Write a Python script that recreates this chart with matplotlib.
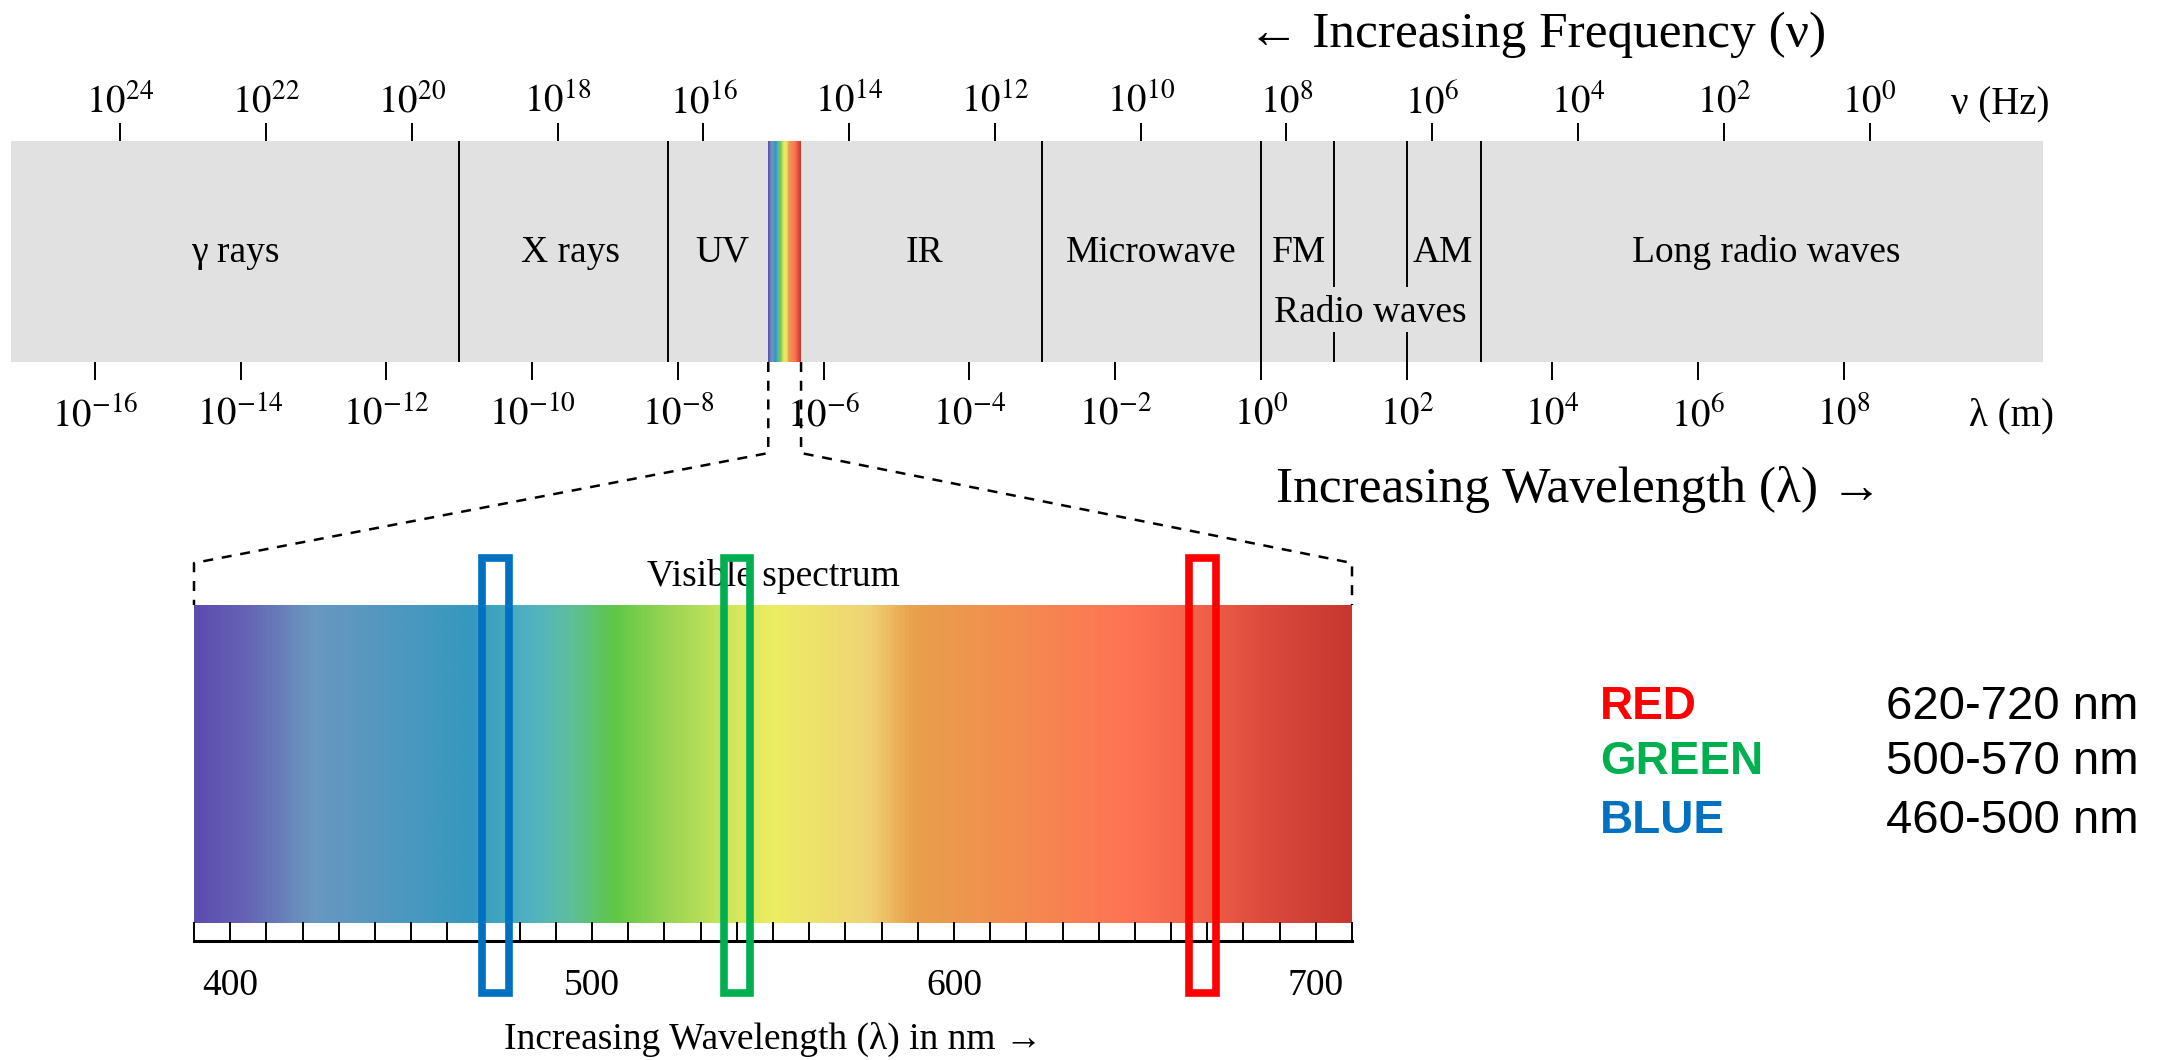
import matplotlib.pyplot as plt
import numpy as np
from matplotlib.colors import LinearSegmentedColormap
from matplotlib.patches import Rectangle
from matplotlib.lines import Line2D
from matplotlib.ticker import MultipleLocator

plt.rcParams['font.family'] = ['Liberation Serif', 'DejaVu Serif']
plt.rcParams['mathtext.fontset'] = 'stix'

W, H = 2164, 1060

# --- top bar, x in log10(wavelength / m) ---
bar_xlim = (-17.15, 10.73)
freq_offset = 8.35          # log10(nu * lambda) as drawn in the picture
wave_exps = list(range(-16, 9, 2))
freq_exps = list(range(24, -1, -2))
full_bounds = [-11, -8.13, -3, 0, 3.02]
split_bounds = [1, 2]        # FM / AM inner lines, broken by "Radio waves"
visible_band = (-6.76, -6.31)
region_names = ['γ rays', 'X rays', 'UV', 'IR', 'Microwave', 'FM', 'AM', 'Long radio waves']
region_x = [-14.07, -9.48, -7.39, -4.61, -1.51, 0.52, 2.50, 6.93]

# --- visible spectrum (nm) ---
vis_range = (390, 710)
vis_labels = [400, 500, 600, 700]
spec_nm = [390, 405, 422, 445, 466, 484, 494, 506, 521, 540, 550, 576, 589, 620, 649, 668, 686, 710]
spec_colors = ['#5d4cae', '#6666b6', '#6a97bf', '#4f98c0', '#3598be', '#52b4c0', '#5dbf9a',
               '#5fc745', '#9ad553', '#d5e75e', '#ecee62', '#f0d476', '#e9a04c', '#f48a50',
               '#ff7354', '#f26249', '#dc4b3d', '#c8372f']

# highlighted boxes on the spectrum (nm)
box_lo = [469.5, 536.4, 665.0]
box_hi = [477.0, 543.6, 672.5]
box_colors = ['#0070C0', '#00B050', '#FF0000']

legend_names = ['RED', 'GREEN', 'BLUE']
legend_ranges = ['620-720 nm', '500-570 nm', '460-500 nm']
legend_colors = ['#FF0000', '#00B050', '#0070C0']
legend_base_px = [719, 774, 833]

cmap = LinearSegmentedColormap.from_list(
    'visible', [((n - vis_range[0]) / (vis_range[1] - vis_range[0]), c)
                for n, c in zip(spec_nm, spec_colors)])
grad = np.linspace(vis_range[0], vis_range[1], 800)[None, :]

fig = plt.figure(figsize=(W / 100, H / 100), dpi=100)

# ---------------- top bar ----------------
ax = fig.add_axes([11 / W, 1 - 362 / H, 2032 / W, 221 / H])
ax.set_facecolor('#e1e1e1')
ax.imshow(grad, extent=(visible_band[0], visible_band[1], 0, 1), aspect='auto',
          cmap=cmap, vmin=vis_range[0], vmax=vis_range[1], interpolation='bilinear')
ax.vlines(full_bounds, 0, 1, color='k', lw=1.4)
ax.vlines(split_bounds, 0.339, 1, color='k', lw=1.4)
ax.vlines(split_bounds, 0, 0.136, color='k', lw=1.4)
ax.set_xlim(bar_xlim)
ax.set_ylim(0, 1)
for s in ax.spines.values():
    s.set_visible(False)
ax.set_yticks([])
ax.set_xticks(wave_exps)
ax.set_xticklabels([f'$10^{{{e}}}$' for e in wave_exps])
ax.tick_params(axis='x', direction='out', length=13, width=1.4, pad=12, labelsize=28)

for name, x in zip(region_names, region_x):
    ax.text(x, 0.4525, name, ha='center', va='baseline', fontsize=27)
ax.text(1.50, 0.181, 'Radio waves', ha='center', va='baseline', fontsize=27)

axf = ax.twiny()
axf.set_xlim(freq_offset - bar_xlim[0], freq_offset - bar_xlim[1])
for s in axf.spines.values():
    s.set_visible(False)
axf.set_xticks(freq_exps)
axf.set_xticklabels([f'$10^{{{e}}}$' for e in freq_exps])
axf.tick_params(axis='x', direction='out', length=13, width=1.4, pad=1, labelsize=28)

ax.text(9.47, 1.122, 'ν (Hz)', ha='left', va='baseline', fontsize=28)
ax.text(9.71, -0.285, 'λ (m)', ha='left', va='baseline', fontsize=28)
ax.text(3.79, 1.425, '← Increasing Frequency (ν)', ha='center', va='baseline', fontsize=37)
ax.text(4.36, -0.579, 'Increasing Wavelength (λ) →', ha='center', va='center', fontsize=37)

# ---------------- visible spectrum ----------------
av = fig.add_axes([194 / W, 1 - 941 / H, 1158 / W, 336 / H])
av.imshow(grad, extent=(vis_range[0], vis_range[1], 0, 1), aspect='auto',
          cmap=cmap, vmin=vis_range[0], vmax=vis_range[1], interpolation='bilinear')
av.set_xlim(vis_range)
av.set_ylim(-0.0565, 1)
for k in ['top', 'left', 'right']:
    av.spines[k].set_visible(False)
av.spines['bottom'].set_linewidth(2.2)
av.set_yticks([])
av.set_xticks(vis_labels)
av.xaxis.set_minor_locator(MultipleLocator(10))
av.tick_params(axis='x', which='both', direction='in', length=13.7, width=1.4)
av.tick_params(axis='x', which='major', pad=20, labelsize=27)

av.text(550, 1.061, 'Visible spectrum', ha='center', va='baseline', fontsize=27)
av.text(550, -0.395, 'Increasing Wavelength (λ) in nm →', ha='center', va='baseline', fontsize=27)

for lo, hi, c in zip(box_lo, box_hi, box_colors):
    av.add_patch(Rectangle((lo, -0.220), hi - lo, 1.368, fill=False, ec=c, lw=5.5,
                           clip_on=False, zorder=5))

# dashed zoom lines from the strip in the bar down to the spectrum
inv = fig.transFigure.inverted()
for bx, sx in [(visible_band[0], vis_range[0]), (visible_band[1], vis_range[1])]:
    pts = [ax.transData.transform((bx, 0)), ax.transData.transform((bx, -0.412)),
           av.transData.transform((sx, 1.132)), av.transData.transform((sx, 1.0))]
    pts = inv.transform(np.array(pts))
    fig.add_artist(Line2D(pts[:, 0], pts[:, 1], color='k', lw=1.8,
                          dashes=(4, 3.5), transform=fig.transFigure))

# colour legend on the right
for name, rng, c, yb in zip(legend_names, legend_ranges, legend_colors, legend_base_px):
    fig.text(1600 / W, 1 - yb / H, name, color=c, fontsize=33, fontweight='bold',
             family='Liberation Sans', va='baseline')
    fig.text(1886 / W, 1 - yb / H, rng, color='k', fontsize=34,
             family='Liberation Sans', va='baseline')

fig.savefig('out.png', dpi=100)
